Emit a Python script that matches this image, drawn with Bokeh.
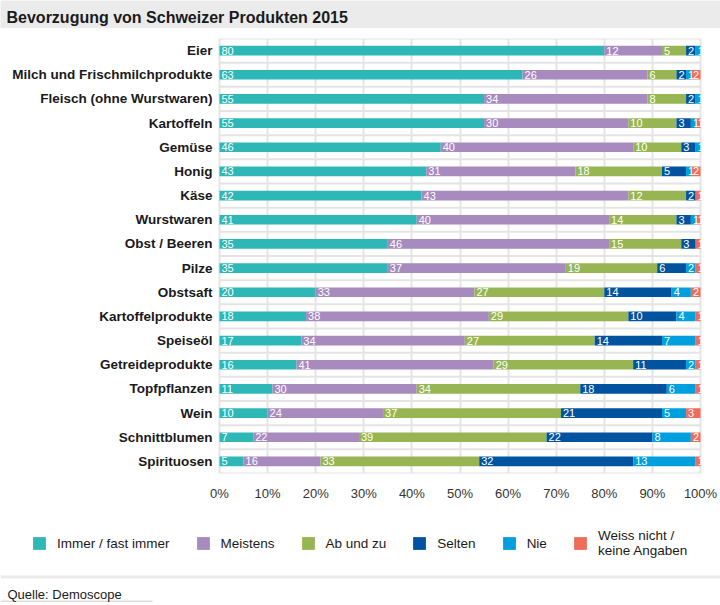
import pandas as pd
from bokeh.plotting import figure
from bokeh.models import (ColumnDataSource, Range1d, FixedTicker, PrintfTickFormatter,
                          LabelSet, Legend, LegendItem, Label, BoxAnnotation)
from bokeh.layouts import column
from bokeh.core.properties import value
from bokeh.embed import file_html
from bokeh.resources import INLINE

# ---------------- data ----------------
categories = ["Eier", "Milch und Frischmilchprodukte", "Fleisch (ohne Wurstwaren)", "Kartoffeln",
              "Gemüse", "Honig", "Käse", "Wurstwaren", "Obst / Beeren", "Pilze", "Obstsaft",
              "Kartoffelprodukte", "Speiseöl", "Getreideprodukte", "Topfpflanzen", "Wein",
              "Schnittblumen", "Spirituosen"]
immer = [80, 63, 55, 55, 46, 43, 42, 41, 35, 35, 20, 18, 17, 16, 11, 10, 7, 5]
meistens = [12, 26, 34, 30, 40, 31, 43, 40, 46, 37, 33, 38, 34, 41, 30, 24, 22, 16]
ab_und_zu = [5, 6, 8, 10, 10, 18, 12, 14, 15, 19, 27, 29, 27, 29, 34, 37, 39, 33]
selten = [2, 2, 2, 3, 3, 5, 2, 3, 3, 6, 14, 10, 14, 11, 18, 21, 22, 32]
nie = [1, 1, 1, 1, 1, 1, 0, 1, 0, 2, 4, 4, 7, 2, 6, 5, 8, 13]
weiss_nicht = [0, 2, 0, 1, 0, 2, 1, 1, 1, 1, 2, 1, 1, 1, 1, 3, 2, 1]
series_labels = ["Immer / fast immer", "Meistens", "Ab und zu", "Selten", "Nie",
                 "Weiss nicht /\nkeine Angaben"]
x_ticks = [0, 10, 20, 30, 40, 50, 60, 70, 80, 90, 100]
title_text = "Bevorzugung von Schweizer Produkten 2015"
source_text = "Quelle: Demoscope"

# ---------------- styles / layout ----------------
FONT = "Liberation Sans"
colors = ["#2db7b6", "#a78abe", "#97b552", "#00539e", "#00a0df", "#ef6c5b"]
GRAY = "#ebebeb"
GRID = "#e4e4e4"
TXT = "#1a1a1a"
W = 720
X0_PX, X100_PX = 219, 700          # pixel position of 0 % and 100 %
TOP_H, MAIN_H, BOT_H = 28, 475, 100
PX_PER_UNIT = (X100_PX - X0_PX) / 100.0

series = [immer, meistens, ab_und_zu, selten, nie, weiss_nicht]
keys = ["s%d" % i for i in range(len(series))]
ypos = list(range(len(categories)))
df = pd.DataFrame({k: v for k, v in zip(keys, series)})
df["y"] = ypos
df["cat"] = categories
src = ColumnDataSource(df)

starts = df[keys].cumsum(axis=1).shift(1, axis=1).fillna(0)
rows = []
for k in keys:
    for i in ypos:
        v = df.loc[i, k]
        rows.append(dict(x=starts.loc[i, k], y=i, t=str(v) if v > 0 else ""))
lsrc = ColumnDataSource(pd.DataFrame(rows))

sep = pd.DataFrame({"y": [i - 0.5 for i in range(len(categories) + 1)]})
sep["x0"] = x_ticks[0]
sep["x1"] = x_ticks[-1]
sep_src = ColumnDataSource(sep)


def blank(height, bg):
    f = figure(width=W, height=height, toolbar_location=None, output_backend="svg",
               x_range=Range1d(0, W), y_range=Range1d(0, height),
               x_axis_type=None, y_axis_type=None, min_border=0, outline_line_color=None)
    f.background_fill_color = bg
    f.border_fill_color = bg
    f.grid.visible = False
    return f


# ---------------- title strip ----------------
pt = blank(TOP_H, GRAY)
pt.add_layout(Label(x=6, y=11, text=title_text, text_font=FONT, text_font_style="bold",
                    text_font_size="16px", text_color=TXT, text_baseline="alphabetic"))

# ---------------- main chart ----------------
p = figure(width=W, height=MAIN_H, toolbar_location=None, output_backend="svg",
           x_range=Range1d(-X0_PX / PX_PER_UNIT, 100 + (W - X100_PX) / PX_PER_UNIT),
           y_range=Range1d(len(categories) - 0.5, -0.5), y_axis_location=None,
           min_border_left=0, min_border_right=0, min_border_top=10, min_border_bottom=30,
           outline_line_color=None)
p.background_fill_color = "white"
p.border_fill_color = "white"

p.xgrid.ticker = FixedTicker(ticks=x_ticks)
p.xgrid.grid_line_color = GRID
p.xgrid.grid_line_width = 2
p.ygrid.visible = False
p.segment(x0="x0", x1="x1", y0="y", y1="y", source=sep_src, line_color=GRID, line_width=2,
          level="underlay")

renderers = p.hbar_stack(keys, y="y", height=0.4, fill_color=colors, line_color=None, source=src)

p.add_layout(LabelSet(x="x", y="y", text="t", source=lsrc, x_offset=2, text_baseline="middle",
                      text_color="white", text_font=value(FONT), text_font_size="11px"))
p.add_layout(LabelSet(x=x_ticks[0], y="y", text="cat", source=src, x_offset=-7, text_align="right",
                      text_baseline="middle", text_color=TXT, text_font=value(FONT),
                      text_font_style="bold", text_font_size="13.5px"))

p.xaxis.ticker = FixedTicker(ticks=x_ticks)
p.xaxis.formatter = PrintfTickFormatter(format="%d%%")
p.xaxis.axis_line_color = None
p.xaxis.major_tick_line_color = None
p.xaxis.minor_tick_line_color = None
p.xaxis.major_tick_out = 0
p.xaxis.major_tick_in = 0
p.xaxis.major_label_standoff = 12
p.xaxis.major_label_text_font = FONT
p.xaxis.major_label_text_font_size = "13px"
p.xaxis.major_label_text_color = "#333333"

# ---------------- legend + source strip ----------------
pl = blank(BOT_H, "white")
pl.extra_y_ranges = {"offscreen": Range1d(1000, 1001)}
leg_r = pl.hbar_stack(keys, y="y", height=0.4, fill_color=colors, line_color=None, source=src,
                      y_range_name="offscreen")
legend = Legend(items=[LegendItem(label=l, renderers=[r]) for l, r in zip(series_labels, leg_r)],
                orientation="horizontal", location=(31, 45), glyph_width=16, glyph_height=16,
                label_standoff=10, spacing=25, padding=0, margin=0, border_line_color=None,
                background_fill_alpha=0, label_text_font=FONT, label_text_font_size="13.5px",
                label_text_color=TXT)
pl.add_layout(legend, "center")
pl.add_layout(BoxAnnotation(left=0, right=W, bottom=25, top=28, fill_color=GRAY, fill_alpha=1,
                            line_color=None))
pl.add_layout(BoxAnnotation(left=0, right=152, bottom=1.5, top=3, fill_color="#dddddd",
                            fill_alpha=1, line_color=None))
pl.add_layout(Label(x=7, y=9, text=source_text, text_font=FONT, text_font_size="13px",
                    text_color=TXT, text_baseline="alphabetic"))

layout = column(pt, p, pl, spacing=0)
open("out.html", "w").write(file_html(layout, INLINE))
